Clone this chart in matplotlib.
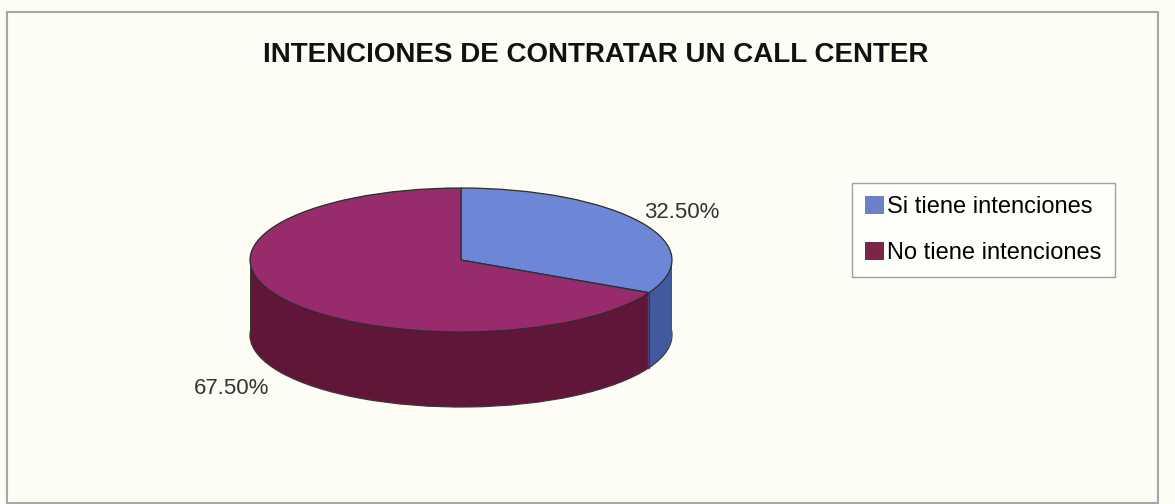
import matplotlib.pyplot as plt
from matplotlib.patches import Patch, Rectangle
import numpy as np

plt.rcParams["font.family"] = ["Liberation Sans", "DejaVu Sans"]

title = "INTENCIONES DE CONTRATAR UN CALL CENTER"
labels = ["Si tiene intenciones", "No tiene intenciones"]
shares = [32.5, 67.5]
pct_labels = ["32.50%", "67.50%"]

top_colors = ["#6E86D6", "#982B6C"]
side_colors = ["#42589F", "#601638"]
legend_colors = ["#6B80C6", "#7B2646"]

W, H = 1175, 504
fig = plt.figure(figsize=(W / 100, H / 100), dpi=100, facecolor="#FDFDF6")

# outer chart border
fig.add_artist(Rectangle((7 / W, 1 / H), 1151 / W, 491 / H, transform=fig.transFigure,
                         fill=False, ec="#A8A8A8", lw=1.5))

# pie axes: x radius 211 px, y radius 72 px, wall depth 75 px
depth = 75 / 72
ax = fig.add_axes([250 / W, (H - 407) / H, 422 / W, 219 / H])

steps = 60
for i, d in enumerate(np.linspace(depth, 0, steps)):
    edge = "#3A3A3A" if i == 0 else "none"
    ax.pie(shares, colors=side_colors, startangle=90, counterclock=False,
           center=(0, -d), radius=1, frame=True,
           wedgeprops=dict(edgecolor=edge, linewidth=0.9))

# vertical wall edges
cut = np.deg2rad(90 - 360 * shares[0] / 100)
for x in [-1, 1, np.cos(cut)]:
    y0 = np.sin(cut) if x == np.cos(cut) else 0
    ax.plot([x, x], [y0, y0 - depth], color="#3A3A3A", lw=0.9)

ax.pie(shares, colors=top_colors, startangle=90, counterclock=False,
       center=(0, 0), radius=1, frame=True,
       wedgeprops=dict(edgecolor="#2E2E2E", linewidth=0.9))

ax.set_aspect("auto")
ax.set_xlim(-1, 1)
ax.set_ylim(-1 - depth, 1)
ax.axis("off")

fig.text(596 / W, 1 - 55 / H, title, ha="center", va="center",
         fontsize=20, fontweight="bold", color="#111111")

fig.text(682 / W, 1 - 212 / H, pct_labels[0], ha="center", va="center",
         fontsize=16, color="#333333")
fig.text(232 / W, 1 - 389 / H, pct_labels[1], ha="center", va="center",
         fontsize=16, color="#333333")

handles = [Patch(facecolor=c, edgecolor="none") for c in legend_colors]
fig.legend(handles=handles, labels=labels, loc="upper left",
           bbox_to_anchor=(852 / W, 1 - 183 / H), frameon=True, fancybox=False,
           edgecolor="#A0A0A0", facecolor="#FEFEFA", framealpha=1,
           fontsize=17, handlelength=0.8, handleheight=0.8, handletextpad=0.15,
           labelspacing=1.0, borderpad=0.55, borderaxespad=0)

fig.savefig("out.png", dpi=100, facecolor=fig.get_facecolor())
